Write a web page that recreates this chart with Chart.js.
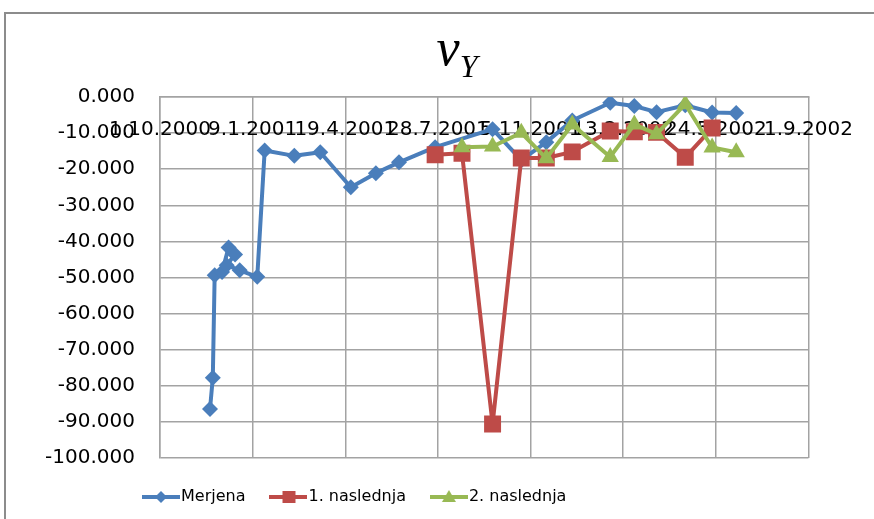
<!DOCTYPE html>
<html>
<head>
<meta charset="utf-8">
<script src="https://cdn.jsdelivr.net/npm/chart.js@4.4.1/dist/chart.umd.min.js"></script>
<style>
  html, body { margin: 0; padding: 0; background: #fff; }
  #wrap { position: relative; width: 874px; height: 519px; overflow: hidden; background: #fff; }
  #frame { position: absolute; left: 4px; top: 12px; width: 900px; height: 600px;
           border-left: 2px solid #8c8c8c; border-top: 2px solid #8c8c8c; }
  #c { position: absolute; left: 0; top: 0; }
  #title { position: absolute; left: 0; top: 22px; width: 914px; text-align: center;
           font-family: 'Liberation Serif', serif; font-style: italic; font-size: 52px;
           line-height: 52px; color: #000; }
  #title sub { font-size: 32px; vertical-align: baseline; position: relative; top: 12px; }
</style>
</head>
<body>
<div id="wrap">
  <div id="frame"></div>
  <canvas id="c" width="874" height="519"></canvas>
  <div id="title">v<sub>Y</sub></div>
</div>
<script>
// Measured series (Merjena)
const measuredDates = [
  '2000-11-24', '2000-11-27', '2000-11-29', '2000-12-07', '2000-12-14', '2000-12-21',
  '2000-12-12', '2000-12-26', '2001-01-14', '2001-01-22', '2001-02-23', '2001-03-23',
  '2001-04-25', '2001-05-22', '2001-06-16', '2001-07-25', '2001-09-25', '2001-10-26',
  '2001-11-22', '2001-12-20', '2002-01-30', '2002-02-25', '2002-03-21', '2002-04-21',
  '2002-05-20', '2002-06-15'
];
const measured = [
  -86.4, -77.8, -49.4, -48.5, -41.7, -43.6,
  -46.6, -48.0, -49.8, -14.8, -16.3, -15.3,
  -25.0, -21.1, -18.1, -13.9, -8.9, -17.5,
  -12.5, -6.5, -1.6, -2.5, -4.2, -2.3,
  -4.3, -4.4
];

// First follow-up series (1. naslednja)
const next1Dates = [
  '2001-07-25', '2001-08-23', '2001-09-25', '2001-10-26', '2001-11-22', '2001-12-20',
  '2002-01-30', '2002-02-25', '2002-03-21', '2002-04-21', '2002-05-20'
];
const next1 = [-16.0, -15.6, -90.6, -16.9, -16.9, -15.2, -9.4, -9.6, -9.8, -16.7, -8.6];

// Second follow-up series (2. naslednja)
const next2Dates = [
  '2001-08-23', '2001-09-25', '2001-10-26', '2001-11-22', '2001-12-20', '2002-01-30',
  '2002-02-25', '2002-03-21', '2002-04-21', '2002-05-20', '2002-06-15'
];
const next2 = [-13.9, -13.7, -9.9, -17.0, -7.6, -16.6, -7.6, -10.3, -2.0, -14.0, -15.3];

// Date axis labels, one every 100 days starting at 1.10.2000
const xTickLabels = ['1.10.2000', '9.1.2001', '19.4.2001', '28.7.2001',
                     '5.11.2001', '13.2.2002', '24.5.2002', '1.9.2002'];
const seriesNames = ['Merjena', '1. naslednja', '2. naslednja'];
const seriesColors = ['#4a7ebb', '#be4b48', '#98b954'];

const START = Date.UTC(2000, 9, 1);
const dayOf = s => Math.round((Date.parse(s + 'T00:00:00Z') - START) / 86400000);
const toPoints = (dates, vals) => dates.map((d, i) => ({ x: dayOf(d), y: vals[i] }));

// Legend swatches: line segment with the series marker in the middle
function makeIcon(color, shape) {
  const c = document.createElement('canvas');
  c.width = 38; c.height = 20;
  const g = c.getContext('2d');
  g.strokeStyle = color; g.fillStyle = color; g.lineWidth = 4;
  g.beginPath(); g.moveTo(0, 10); g.lineTo(38, 10); g.stroke();
  g.beginPath();
  if (shape === 'diamond') {
    g.moveTo(19, 4); g.lineTo(25, 10); g.lineTo(19, 16); g.lineTo(13, 10);
  } else if (shape === 'square') {
    g.rect(13, 4, 13, 12);
  } else {
    g.moveTo(19, 3); g.lineTo(26, 15); g.lineTo(12, 15);
  }
  g.closePath(); g.fill();
  return c;
}
const legendIcons = [
  makeIcon(seriesColors[0], 'diamond'),
  makeIcon(seriesColors[1], 'square'),
  makeIcon(seriesColors[2], 'triangle')
];

// The legend row starts under the left part of the plot, not at the canvas edge
const legendIndent = {
  id: 'legendIndent',
  afterLayout(chart) {
    const lg = chart.legend;
    if (lg) { lg.left += 118; lg.right += 118; }
  }
};

const gridColor = '#a3a3a3';
const tickFont = { family: 'DejaVu Sans', size: 20 };
const lineStyle = { borderWidth: 4, borderJoinStyle: 'round', borderCapStyle: 'round',
                    pointBorderWidth: 0, tension: 0 };

new Chart(document.getElementById('c'), {
  type: 'line',
  data: {
    datasets: [
      { label: seriesNames[0], data: toPoints(measuredDates, measured), ...lineStyle,
        borderColor: seriesColors[0], backgroundColor: seriesColors[0],
        pointStyle: 'rectRot', pointRadius: 8, order: 3 },
      { label: seriesNames[1], data: toPoints(next1Dates, next1), ...lineStyle,
        borderColor: seriesColors[1], backgroundColor: seriesColors[1],
        pointStyle: 'rect', pointRadius: 12, order: 2 },
      { label: seriesNames[2], data: toPoints(next2Dates, next2), ...lineStyle,
        borderColor: seriesColors[2], backgroundColor: seriesColors[2],
        pointStyle: 'triangle', pointRadius: 10, order: 1 }
    ]
  },
  options: {
    responsive: false,
    animation: false,
    layout: { padding: { left: 0, right: 64, top: 97, bottom: 4 } },
    scales: {
      x: {
        type: 'linear',
        position: { y: 0 },
        min: 0, max: 700,
        ticks: {
          stepSize: 100, autoSkip: false, maxRotation: 0, padding: 21,
          color: '#000', font: tickFont,
          callback: v => xTickLabels[Math.round(v / 100)]
        },
        grid: { color: gridColor, lineWidth: 1.5, drawTicks: false },
        border: { color: gridColor, width: 1.5 }
      },
      y: {
        min: -100, max: 0,
        ticks: { stepSize: 10, padding: 25, color: '#000', font: tickFont,
                 callback: v => v.toFixed(3) },
        grid: { color: gridColor, lineWidth: 1.5, drawTicks: false },
        border: { color: gridColor, width: 1.5 },
        afterFit: s => { s.width = 160; }
      }
    },
    plugins: {
      title: { display: false },
      tooltip: { enabled: false },
      legend: {
        position: 'bottom',
        align: 'start',
        labels: {
          usePointStyle: true,
          pointStyleWidth: 24,
          padding: 31,
          color: '#000',
          font: { family: 'DejaVu Sans', size: 16 },
          generateLabels: chart => chart.data.datasets.map((ds, i) => ({
            text: ds.label, pointStyle: legendIcons[i], datasetIndex: i,
            fontColor: '#000', fillStyle: ds.borderColor, strokeStyle: ds.borderColor,
            lineWidth: 0, hidden: false
          }))
        }
      }
    }
  },
  plugins: [legendIndent]
});
</script>
</body>
</html>
